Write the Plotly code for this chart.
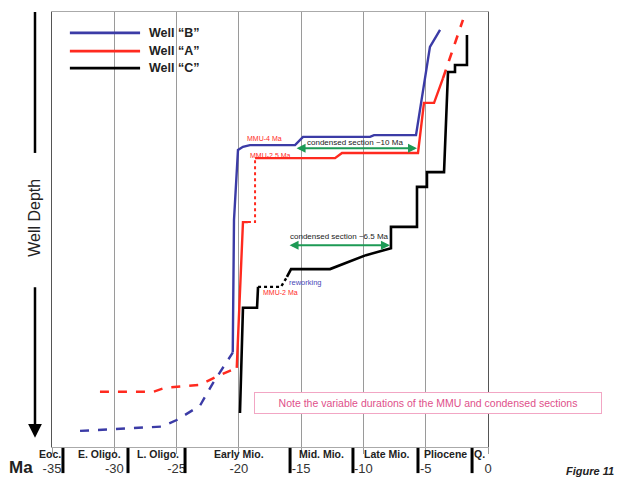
import plotly.graph_objects as go

# ---------------- data (age in Ma, depth in relative units 0=top .. 100=bottom) -------------
tick_vals = [-35, -30, -25, -20, -15, -10, -5, 0]
tick_text = ["-35", "-30", "-25", "-20", "-15", "-10", "-5", "0"]

period_names = ["Eoc.", "E. Oligo.", "L. Oligo.", "Early Mio.", "Mid. Mio.", "Late Mio.", "Pliocene", "Q."]
period_centers = [-35.0, -31.19, -26.49, -19.95, -13.33, -8.11, -3.45, -0.72]
period_bounds = [-34.12, -28.90, -24.32, -15.89, -10.84, -5.62, -1.28]

# Well "B" (blue)
b_dash_age = [-32.75, -26.19, -24.99, -23.12, -22.08, -20.49]
b_dash_dep = [96.3, 95.3, 93.8, 90.5, 85.3, 78.3]
b_solid_age = [-20.49, -20.39, -20.07, -19.67, -19.11, -15.49, -14.85, -9.47, -9.15, -5.78, -4.66, -3.85]
b_solid_dep = [78.3, 47.8, 31.7, 31.0, 30.6, 30.6, 28.7, 28.7, 28.3, 28.3, 8.0, 4.1]

# Well "A" (red)
a_dash_age = [-31.15, -26.87, -25.93, -23.12, -21.78, -20.17]
a_dash_dep = [87.3, 87.3, 86.4, 85.7, 83.8, 81.8]
a_solid1_age = [-20.17, -19.67, -19.27]
a_solid1_dep = [81.8, 48.3, 48.3]
a_dot_age = [-19.27, -18.70, -18.70]
a_dot_dep = [48.3, 48.3, 33.6]
a_solid2_age = [-18.70, -12.28, -11.72, -5.62, -5.14, -4.33, -3.61]
a_solid2_dep = [33.6, 33.6, 32.4, 32.4, 20.9, 20.9, 15.2]
a_top_age = [-3.61, -2.01]
a_top_dep = [15.2, 1.8]

# Well "C" (black)
c_solid1_age = [-19.91, -19.67, -18.54, -18.46]
c_solid1_dep = [92.2, 68.0, 68.0, 63.2]
c_dot_age = [-18.46, -16.62, -16.14]
c_dot_dep = [63.2, 63.2, 60.9]
c_solid2_age = [-16.14, -15.81, -12.68, -9.79, -7.79, -7.79, -5.70, -5.70, -4.90, -4.90,
                -3.53, -3.21, -2.65, -2.65, -1.69, -1.69]
c_solid2_dep = [60.9, 59.1, 59.1, 55.9, 54.3, 49.4, 49.4, 40.2, 40.2, 36.8,
                36.8, 13.8, 13.8, 12.2, 12.2, 5.3]

# condensed-section arrows: (start age, end age, depth)
cs10 = (-15.49, -5.70, 31.3)
cs65 = (-16.05, -7.87, 53.6)

BLUE = "#3b3ba6"
RED = "#ff2a1f"
BLACK = "#000000"
GREEN = "#1d9a55"
FONT = "Arial, Liberation Sans, sans-serif"

fig = go.Figure()

def add_line(x, y, color, dash="solid", width=2.4):
    fig.add_trace(go.Scatter(x=x, y=y, mode="lines", showlegend=False, hoverinfo="skip",
                             line=dict(color=color, width=width, dash=dash)))

add_line(b_dash_age, b_dash_dep, BLUE, "dash")
add_line(b_solid_age, b_solid_dep, BLUE)
add_line(a_dash_age, a_dash_dep, RED, "dash")
add_line(a_solid1_age, a_solid1_dep, RED)
add_line(a_dot_age, a_dot_dep, RED, "dot", 2)
add_line(a_solid2_age, a_solid2_dep, RED)
add_line(a_top_age, a_top_dep, RED, "dash", 2.6)
add_line(c_solid1_age, c_solid1_dep, BLACK, width=2.6)
add_line(c_dot_age, c_dot_dep, BLACK, "dot", 2.4)
add_line(c_solid2_age, c_solid2_dep, BLACK, width=2.6)

ann = []
shapes = []

# condensed section arrows (double headed)
for (x0, x1, yv) in (cs10, cs65):
    ann.append(dict(x=x1, y=yv, ax=x0, ay=yv, xref="x", yref="y", axref="x", ayref="y",
                    showarrow=True, arrowhead=2, arrowsize=0.9, arrowwidth=2,
                    arrowcolor=GREEN, arrowside="end+start", text=""))

def txt(x, y, s, color, size, bold=False, **kw):
    d = dict(x=x, y=y, xref="x", yref="y", showarrow=False,
             text=f"<b>{s}</b>" if bold else s,
             font=dict(family=FONT, size=size, color=color))
    d.update(kw)
    ann.append(d)

txt(-10.68, 29.9, "condensed section ~10 Ma", "#222222", 8)
txt(-11.96, 51.7, "condensed section ~6.5 Ma", "#222222", 8)
txt(-17.98, 29.0, "MMU-4 Ma", RED, 7)
txt(-17.50, 32.9, "MMU-2.5 Ma", RED, 7)
txt(-14.69, 62.1, "reworking", "#4848b8", 7.5)
txt(-16.62, 64.4, "MMU-2 Ma", RED, 7)

# note box
ann.append(dict(x=-4.78, y=89.9, xref="x", yref="y", showarrow=False,
                text="Note the variable durations of the MMU and condensed sections",
                font=dict(family=FONT, size=10.5, color="#e0508a"),
                bordercolor="#f2a6c4", borderwidth=1, borderpad=3, bgcolor="white",
                width=340, height=14))

# legend (manual)
leg_names = ["Well “B”", "Well “A”", "Well “C”"]
leg_colors = [BLUE, RED, BLACK]
leg_y = [0.952, 0.910, 0.871]
for name, col, yy in zip(leg_names, leg_colors, leg_y):
    shapes.append(dict(type="line", xref="paper", yref="paper", x0=0.041, x1=0.202, y0=yy, y1=yy,
                       line=dict(color=col, width=2.6)))
    ann.append(dict(x=0.218, y=yy, xref="paper", yref="paper", xanchor="left", yanchor="middle",
                    showarrow=False,
                    text=f"<b>{name}</b>", font=dict(family=FONT, size=12.5, color="#222222")))

# geologic period labels & separators
for name, xc in zip(period_names, period_centers):
    ann.append(dict(x=xc, y=-0.016, xref="x", yref="paper", showarrow=False,
                    xanchor="center", yanchor="middle",
                    xshift=-2 if name == "Eoc." else 0,
                    text=f"<b>{name}</b>", font=dict(family=FONT, size=10.5, color="#222222")))
for xb in period_bounds:
    shapes.append(dict(type="line", xref="x", yref="paper", x0=xb, x1=xb, y0=-0.002, y1=-0.060,
                       line=dict(color="black", width=3)))

# "Ma" label
ann.append(dict(x=-0.070, y=-0.046, xref="paper", yref="paper", showarrow=False,
                xanchor="center", yanchor="middle",
                text="<b>Ma</b>", font=dict(family=FONT, size=17, color="#222222")))
# Figure label
ann.append(dict(x=1.235, y=-0.055, xref="paper", yref="paper", showarrow=False,
                xanchor="center", yanchor="middle",
                text="<b><i>Figure 11</i></b>", font=dict(family=FONT, size=11, color="#222222")))

# Well depth label with line and arrow
ann.append(dict(x=-0.039, y=0.527, xref="paper", yref="paper", showarrow=False, textangle=-90,
                xanchor="center", yanchor="middle",
                text="Well Depth", font=dict(family=FONT, size=16, color="#222222")))
shapes.append(dict(type="line", xref="paper", yref="paper", x0=-0.039, x1=-0.039, y0=1.0, y1=0.676,
                   line=dict(color="black", width=2.5)))
ann.append(dict(x=-0.039, y=0.021, xref="paper", yref="paper", ax=0, ay=-152,
                showarrow=True, arrowhead=2, arrowsize=1.1, arrowwidth=2.5, arrowcolor="black", text=""))

fig.update_layout(
    width=620, height=481,
    margin=dict(l=52, r=132, t=12, b=34, autoexpand=False),
    paper_bgcolor="white", plot_bgcolor="white",
    annotations=ann, shapes=shapes,
    showlegend=False,
    xaxis=dict(range=[-35, 0], tickvals=tick_vals, ticktext=tick_text, automargin=False,
               showgrid=True, gridcolor="#9a9a9a", gridwidth=1, zeroline=False,
               showline=True, linecolor="#aaaaaa", linewidth=1, mirror=True,
               ticks="outside", ticklen=6, tickcolor="#9a9a9a",
               ticklabelstandoff=3,
               tickfont=dict(family=FONT, size=13, color="#333333")),
    yaxis=dict(range=[100, 0], showticklabels=False, showgrid=False, zeroline=False, automargin=False,
               showline=True, linecolor="#555555", linewidth=1.2, mirror=True, ticks=""),
)

fig.write_html("out.html")
